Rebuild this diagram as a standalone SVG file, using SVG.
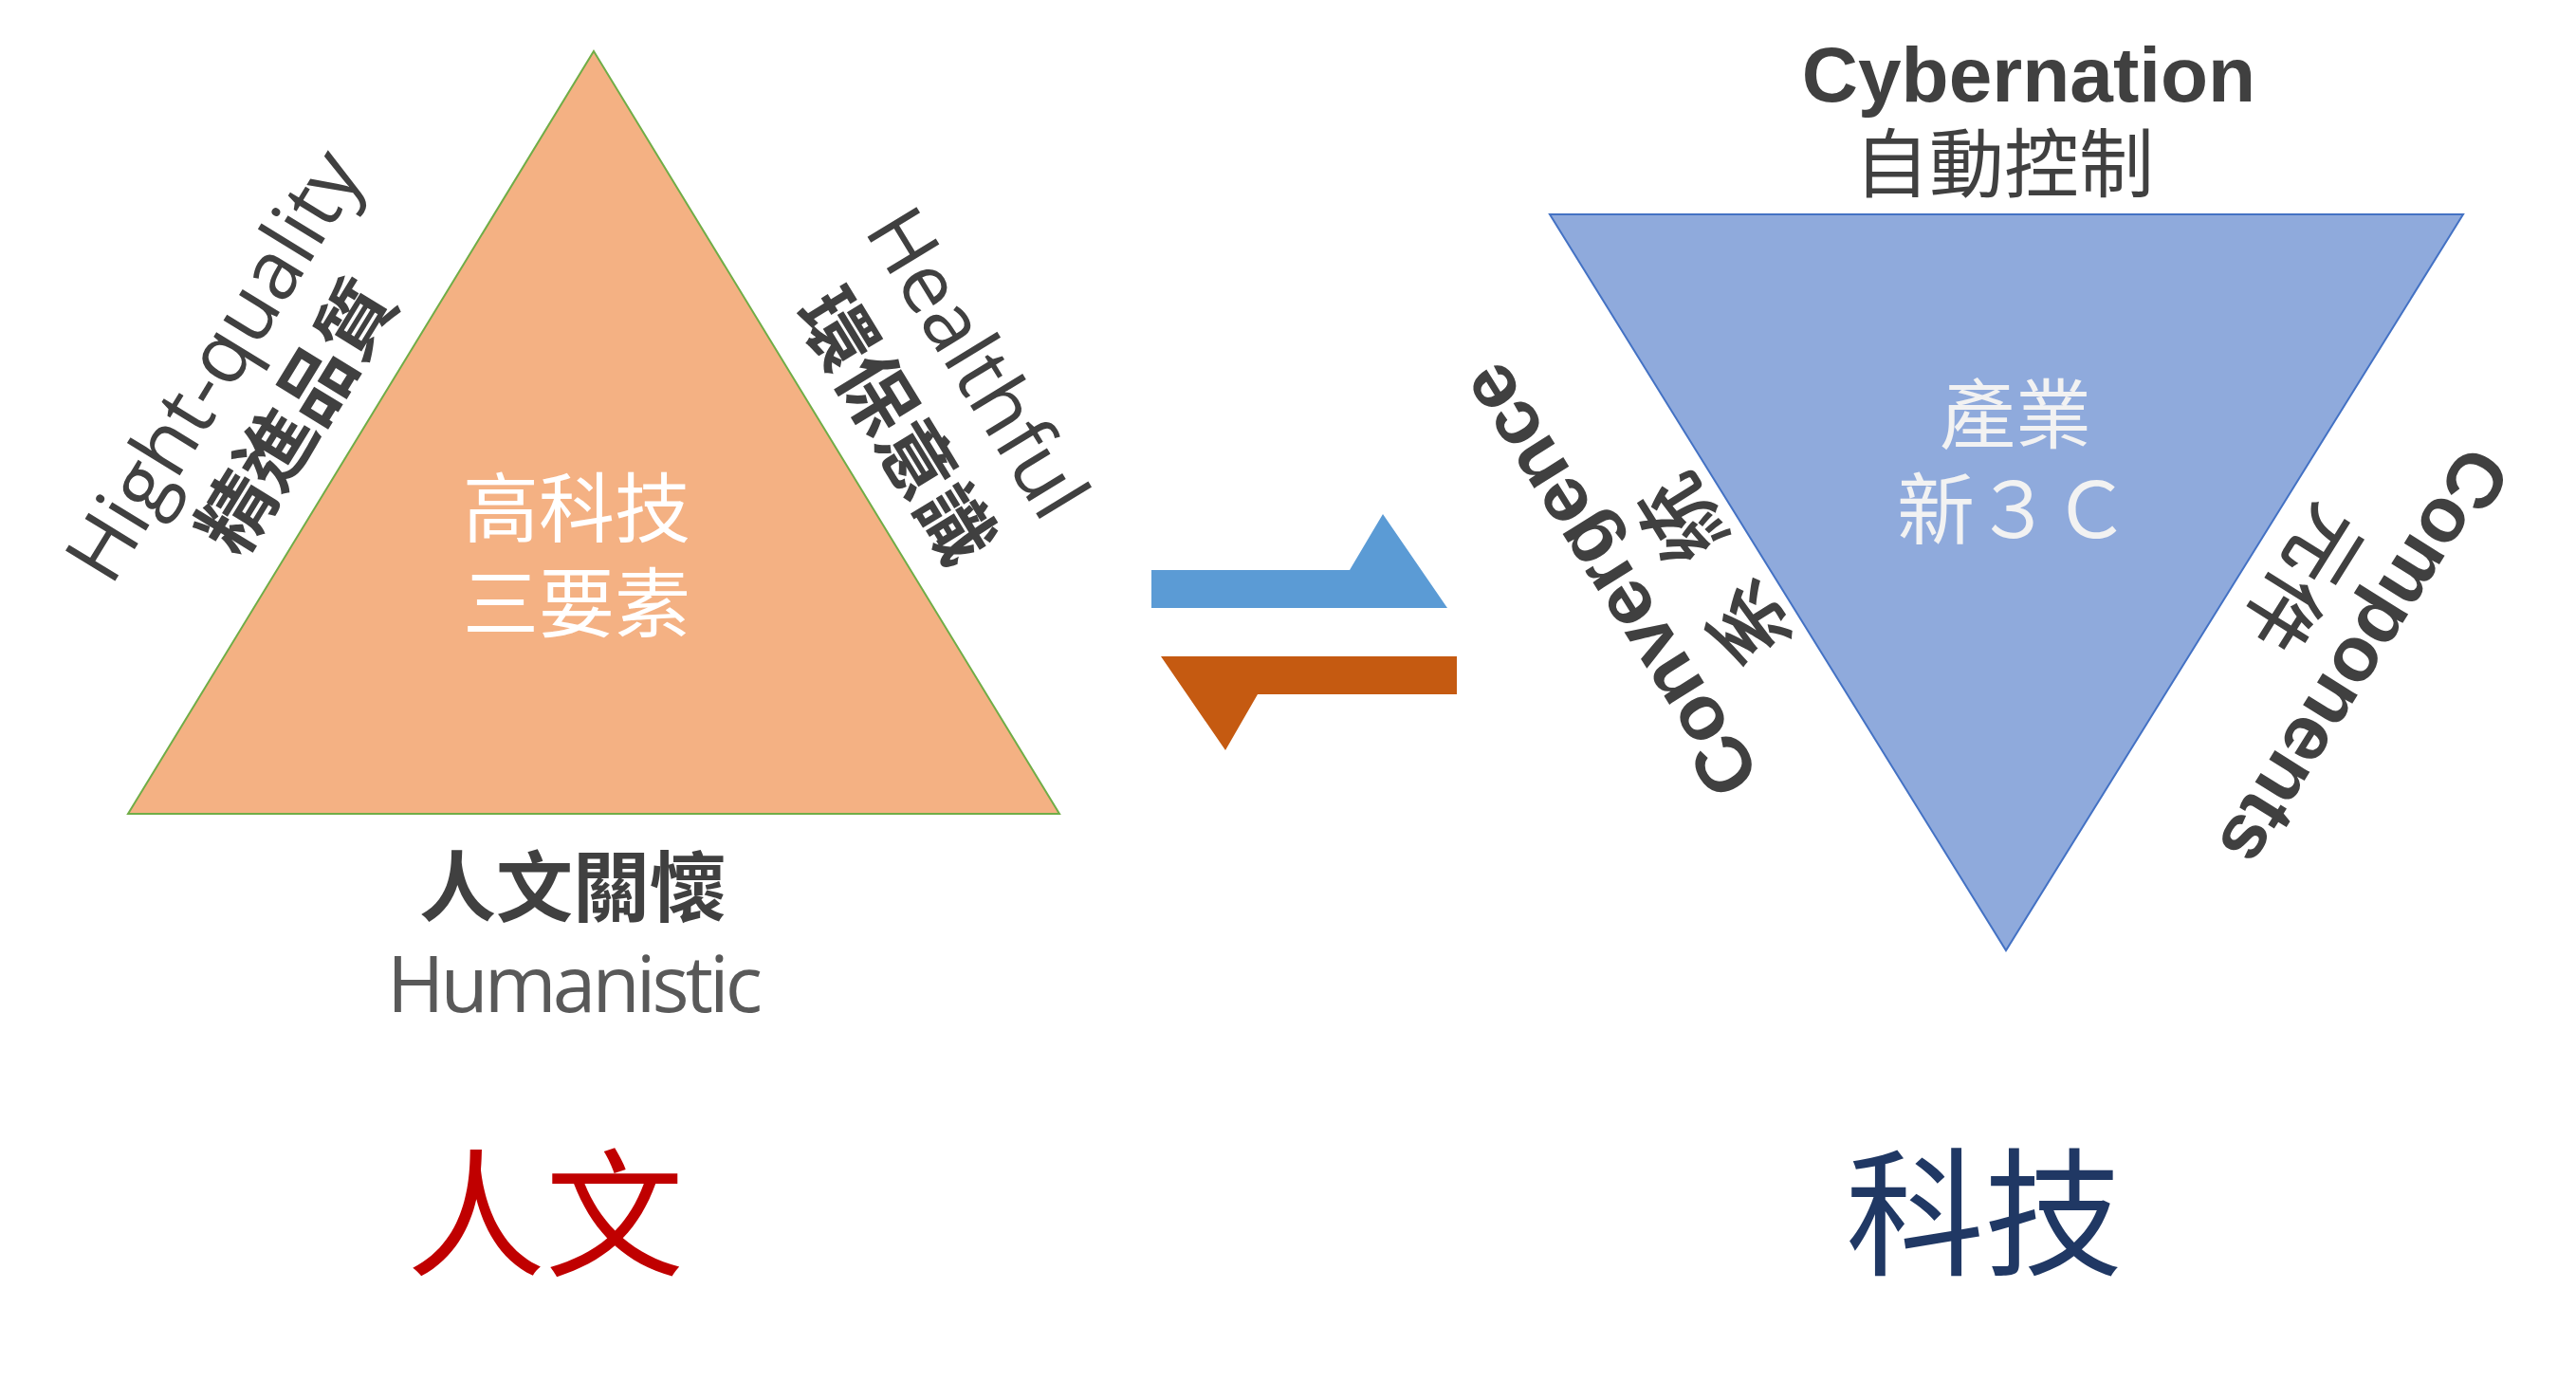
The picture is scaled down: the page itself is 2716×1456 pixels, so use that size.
<svg xmlns="http://www.w3.org/2000/svg" width="2716" height="1456" viewBox="0 0 2716 1456">
<style>
.cjk{font-family:"Noto Sans CJK TC","Noto Sans CJK SC",sans-serif}
.lat{font-family:"Open Sans","Noto Sans",sans-serif}
.arl{font-family:"Liberation Sans",Arial,sans-serif;font-weight:bold}
.dk{fill:#404040}
.b{font-weight:bold}
.m{font-weight:500}
</style>
<rect width="2716" height="1456" fill="#FFFFFF"/>
<g id="human-triangle">
<polygon points="626,54 1117,858 135,858" fill="#F4B183" stroke="#70AD47" stroke-width="2"/>
<text class="cjk" x="608" y="565" font-size="80" fill="#FFFFFF" text-anchor="middle">高科技</text>
<text class="cjk" x="608" y="665" font-size="80" fill="#FFFFFF" text-anchor="middle">三要素</text>
</g>
<g id="label-hight-quality" transform="translate(251,401) rotate(-58.5)">
<text class="lat dk" x="0" y="0" font-size="86" text-anchor="middle">Hight-quality</text>
<text class="cjk dk b" x="0" y="101" font-size="80" text-anchor="middle">精進品質</text>
</g>
<g id="label-healthful" transform="translate(1005,398) rotate(58.6)">
<text class="lat dk" x="0" y="0" font-size="85" text-anchor="middle">Healthful</text>
<text class="cjk dk b" x="13" y="107" font-size="80" text-anchor="middle">環保意識</text>
</g>
<g id="label-humanistic">
<text class="cjk dk b" x="604" y="965" font-size="81" text-anchor="middle">人文關懷</text>
<text class="lat" x="606" y="1067" font-size="82" fill="#595959" text-anchor="middle" textLength="396">Humanistic</text>
</g>
<g id="title-human">
<text class="cjk" x="575" y="1334" font-size="146" fill="#C00000" text-anchor="middle">人文</text>
</g>
<g id="tech-triangle">
<polygon points="1634,226 2597,226 2115,1002" fill="#8FAADC" stroke="#4472C4" stroke-width="2"/>
<text class="cjk" x="2125" y="466" font-size="80" fill="#F2F2F2" text-anchor="middle">產業</text>
<text class="cjk" x="2123" y="567" font-size="82" fill="#F2F2F2" text-anchor="middle">新３Ｃ</text>
</g>
<g id="label-cybernation">
<text class="arl dk" x="2139" y="107" font-size="82" text-anchor="middle">Cybernation</text>
<text class="cjk dk" x="2113" y="202" font-size="79" text-anchor="middle">自動控制</text>
</g>
<g id="label-convergence" transform="translate(1720,597) rotate(-122)">
<text class="arl dk" x="0" y="0" font-size="82" text-anchor="middle">Convergence</text>
<text class="cjk dk m" x="-116 14" y="104" font-size="88" text-anchor="middle">系統</text>
</g>
<g id="label-components" transform="translate(2469,678) rotate(122)">
<text class="arl dk" x="0" y="0" font-size="82" text-anchor="middle">Components</text>
<text class="cjk dk m" x="-77 5" y="99" font-size="80" text-anchor="middle">元件</text>
</g>
<g id="title-tech">
<text class="cjk" x="2092" y="1333" font-size="146" fill="#203864" text-anchor="middle">科技</text>
</g>
<g id="connectors">
<polygon points="1214,601 1423,601 1458,542 1526,641 1214,641" fill="#5B9BD5"/>
<polygon points="1224,692 1536,692 1536,732 1326,732 1292,791" fill="#C55A11"/>
</g>
</svg>
